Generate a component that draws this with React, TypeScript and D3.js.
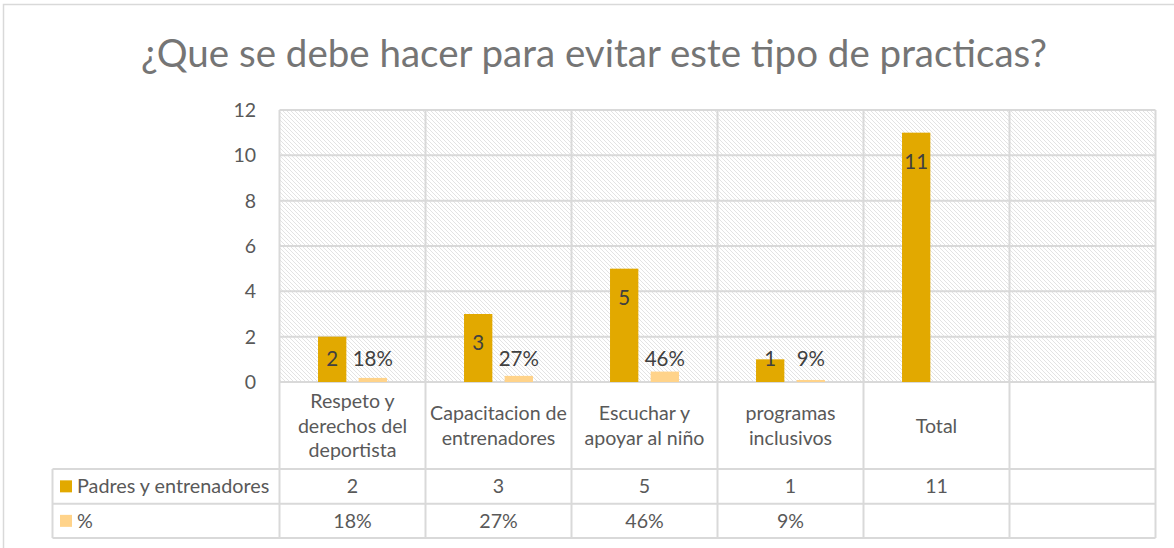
import React from "react";
import * as d3 from "d3";

const title = "¿Que se debe hacer para evitar este tipo de practicas?";
const categories = ["Respeto y derechos del deportista", "Capacitacion de entrenadores", "Escuchar y apoyar al niño", "programas inclusivos", "Total", ""];
const categoryLines = [["Respeto y", "derechos del", "deportista"], ["Capacitacion de", "entrenadores"], ["Escuchar y", "apoyar al niño"], ["programas", "inclusivos"], ["Total"], []];
const seriesNames = ["Padres y entrenadores", "%"];
const padres: (number | null)[] = [2, 3, 5, 1, 11, null];
const pct: (number | null)[] = [0.18, 0.27, 0.46, 0.09, null, null];
const yTicks = [0, 2, 4, 6, 8, 10, 12];
const colors = ["#E2A900", "#FFD38A"];

const W = 1174, H = 548;
const FONT = "Lato, 'Open Sans', sans-serif";

export default function App() {
  const plot = { left: 279.5, right: 1155.5, top: 110, bottom: 382 };
  const x = d3.scaleBand<string>().domain(categories.map((c, i) => String(i))).range([plot.left, plot.right]).padding(0);
  const bw = x.bandwidth();
  const inner = d3.scaleBand<string>().domain(seriesNames).range([0, bw]).paddingInner(0.303).paddingOuter(0.948);
  const y = d3.scaleLinear().domain([0, 12]).range([plot.bottom, plot.top]);
  const fmtPct = d3.format(".0%");
  const tableLeft = 52.5;
  const rowTop = [469, 503.7];
  const rowBottom = 538;
  const grid = "#D9D9D9";
  const txt = "#595959";
  const series = [padres, pct];
  const labelY = (v: number) => Math.min(y(v) + 28.5, y(0) - 23);

  const bounds = d3.range(categories.length + 1).map((i) => plot.left + i * bw);

  return (
    <svg width={W} height={H} style={{ position: "absolute", left: 0, top: 0, background: "#fff" }} fontFamily={FONT}>
      <defs>
        <pattern id="hatch" width="4" height="4" patternUnits="userSpaceOnUse">
          <rect width="4" height="4" fill="#fff" />
          <path d="M-1,-1 L5,5 M-1,3 L1,5 M3,-1 L5,1" stroke="#DCDCDC" strokeWidth="0.8" />
        </pattern>
      </defs>
      {/* chart border */}
      <path d={`M3.5,${H} L3.5,4.5 L${W},4.5`} fill="none" stroke={grid} strokeWidth={1.5} />
      {/* title */}
      <text x={594} y={67} textAnchor="middle" fontSize={38.5} fill="#757575">{title}</text>
      {/* plot area */}
      <rect x={plot.left} y={plot.top} width={plot.right - plot.left} height={plot.bottom - plot.top} fill="url(#hatch)" />
      {yTicks.map((t) => (
        <line key={"g" + t} x1={plot.left} x2={plot.right} y1={y(t)} y2={y(t)} stroke={grid} strokeWidth={2} />
      ))}
      {bounds.map((bx, i) => (
        <line key={"v" + i} x1={bx} x2={bx} y1={plot.top} y2={rowBottom} stroke={grid} strokeWidth={2} />
      ))}
      {/* table lines */}
      {[...rowTop, rowBottom].map((ry, i) => (
        <line key={"r" + i} x1={tableLeft} x2={plot.right} y1={ry} y2={ry} stroke={grid} strokeWidth={2} />
      ))}
      <line x1={tableLeft} x2={tableLeft} y1={rowTop[0]} y2={rowBottom} stroke={grid} strokeWidth={2} />
      {/* y tick labels */}
      {yTicks.map((t) => (
        <text key={"t" + t} x={256} y={y(t)} dy="0.36em" textAnchor="end" fontSize={19.5} fill={txt}>{t}</text>
      ))}
      {/* bars */}
      {series.map((vals, si) =>
        vals.map((v, ci) =>
          v == null ? null : (
            <rect key={`b${si}-${ci}`} x={(x(String(ci)) as number) + (inner(seriesNames[si]) as number)} y={y(v)} width={inner.bandwidth()} height={y(0) - y(v)} fill={colors[si]} />
          )
        )
      )}
      {/* data labels */}
      {series.map((vals, si) =>
        vals.map((v, ci) =>
          v == null ? null : (
            <text key={`l${si}-${ci}`} x={(x(String(ci)) as number) + (inner(seriesNames[si]) as number) + inner.bandwidth() / 2} y={labelY(v)} dy="0.36em" textAnchor="middle" fontSize={20.5} fill="#404040">
              {si === 0 ? String(v) : fmtPct(v)}
            </text>
          )
        )
      )}
      {/* category labels */}
      {categoryLines.map((lines, ci) => {
        const cx = (x(String(ci)) as number) + bw / 2;
        const cy = (plot.bottom + rowTop[0]) / 2;
        const lh = 24.5;
        return lines.map((ln, li) => (
          <text key={`c${ci}-${li}`} x={cx} y={cy + (li - (lines.length - 1) / 2) * lh} dy="0.36em" textAnchor="middle" fontSize={19.6} fill={txt}>{ln}</text>
        ));
      })}
      {/* table rows */}
      {seriesNames.map((name, si) => {
        const cy = (rowTop[si] + (si === 0 ? rowTop[1] : rowBottom)) / 2;
        return (
          <g key={"row" + si}>
            <rect x={60} y={cy - 6} width={12} height={12} fill={colors[si]} />
            <text x={77} y={cy} dy="0.36em" fontSize={19.8} fill={txt}>{name}</text>
            {series[si].map((v, ci) =>
              v == null ? null : (
                <text key={ci} x={(x(String(ci)) as number) + bw / 2} y={cy} dy="0.36em" textAnchor="middle" fontSize={19.6} fill={txt}>
                  {si === 0 ? String(v) : fmtPct(v)}
                </text>
              )
            )}
          </g>
        );
      })}
    </svg>
  );
}
